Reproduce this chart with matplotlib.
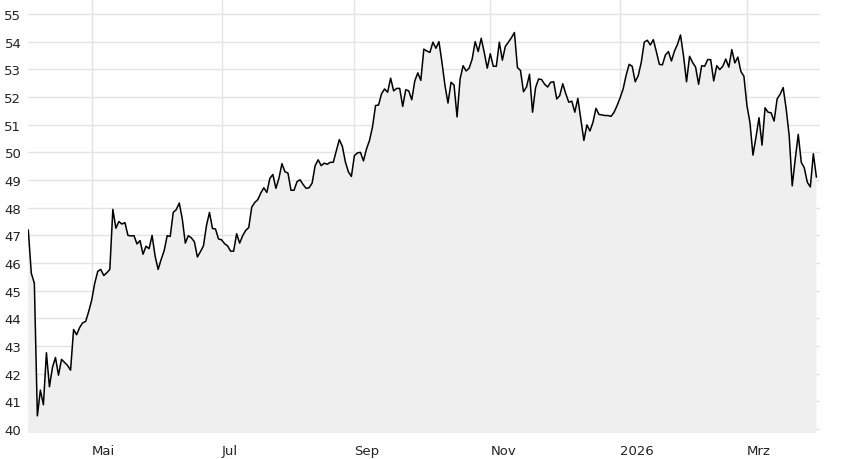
import numpy as np
import pandas as pd
import matplotlib
matplotlib.use("Agg")
import matplotlib.pyplot as plt

# daily closing prices (weekdays)
start_date = "2025-04-02"
prices = [
    47.19, 45.63, 45.27, 40.48, 41.41, 40.88, 42.76, 41.53, 42.23, 42.59,
    41.95, 42.52, 42.41, 42.30, 42.13, 43.60, 43.41, 43.67, 43.84, 43.89,
    44.25, 44.66, 45.27, 45.70, 45.77, 45.55, 45.65, 45.77, 47.94, 47.26,
    47.50, 47.41, 47.46, 47.00, 46.98, 46.99, 46.69, 46.81, 46.32, 46.61,
    46.52, 47.00, 46.25, 45.77, 46.13, 46.45, 46.99, 46.96, 47.83, 47.93,
    48.17, 47.59, 46.72, 46.99, 46.91, 46.77, 46.22, 46.41, 46.62, 47.35,
    47.83, 47.25, 47.23, 46.87, 46.84, 46.70, 46.62, 46.43, 46.43, 47.06,
    46.72, 46.99, 47.18, 47.28, 48.02, 48.19, 48.29, 48.53, 48.72, 48.55,
    49.06, 49.20, 48.70, 49.06, 49.59, 49.30, 49.25, 48.63, 48.63, 48.94,
    49.01, 48.84, 48.70, 48.72, 48.89, 49.52, 49.73, 49.52, 49.61, 49.57,
    49.64, 49.64, 50.05, 50.46, 50.22, 49.66, 49.30, 49.13, 49.88, 49.98,
    50.00, 49.69, 50.12, 50.43, 50.92, 51.69, 51.71, 52.12, 52.29, 52.17,
    52.68, 52.22, 52.31, 52.31, 51.66, 52.26, 52.22, 51.90, 52.58, 52.87,
    52.60, 53.73, 53.66, 53.61, 53.98, 53.76, 54.00, 53.25, 52.41, 51.78,
    52.53, 52.43, 51.28, 52.65, 53.13, 52.94, 53.04, 53.37, 54.00, 53.64,
    54.12, 53.61, 53.04, 53.56, 53.11, 53.11, 53.98, 53.33, 53.83, 53.98,
    54.14, 54.33, 53.06, 52.96, 52.19, 52.36, 52.82, 51.45, 52.34, 52.65,
    52.63, 52.46, 52.36, 52.53, 52.55, 51.93, 52.05, 52.48, 52.12, 51.81,
    51.85, 51.45, 51.95, 51.20, 50.43, 50.99, 50.77, 51.08, 51.59, 51.37,
    51.35, 51.33, 51.33, 51.30, 51.45, 51.69, 51.97, 52.29, 52.79, 53.18,
    53.11, 52.55, 52.77, 53.25, 53.98, 54.05, 53.88, 54.07, 53.64, 53.18,
    53.16, 53.52, 53.64, 53.30, 53.66, 53.90, 54.24, 53.49, 52.55, 53.47,
    53.25, 53.08, 52.46, 53.13, 53.11, 53.35, 53.35, 52.58, 53.13, 52.99,
    53.11, 53.37, 53.08, 53.71, 53.23, 53.44, 52.92, 52.75, 51.69, 51.08,
    49.90, 50.55, 51.25, 50.26, 51.61, 51.45, 51.43, 51.13, 51.93, 52.10,
    52.34, 51.57, 50.60, 48.79, 49.76, 50.65, 49.64, 49.44, 48.92, 48.75,
    49.95, 49.11,
]

# months that get a tick, and their labels (January shows the year)
tick_months = [5, 7, 9, 11, 1, 3]
month_names = {5: "Mai", 7: "Jul", 9: "Sep", 11: "Nov", 3: "Mrz"}
y_ticks = list(range(40, 56))

dates = pd.bdate_range(start_date, periods=len(prices))
x = np.arange(len(prices))

# first trading day of every tick month
tick_pos = []
tick_lab = []
for i in range(1, len(dates)):
    if dates[i].month != dates[i - 1].month and dates[i].month in tick_months:
        tick_pos.append(i)
        if dates[i].month == 1:
            tick_lab.append(str(dates[i].year))
        else:
            tick_lab.append(month_names[dates[i].month])

fig = plt.figure(figsize=(8.48, 4.6), dpi=100)
ax = fig.add_axes([28.3 / 848, 26 / 460, (820 - 28.3) / 848, 434 / 460])

ax.fill_between(x, prices, 30, color="#efefef", lw=0)
ax.plot(x, prices, color="black", lw=1.1)

ax.set_xlim(0, 262.2)
ax.set_ylim(39.86, 55.54)

ax.set_yticks(y_ticks)
ax.set_xticks(tick_pos)
ax.set_xticklabels(tick_lab, ha="left")
ax.grid(True, color="#e3e3e3", lw=1)
ax.set_axisbelow(True)
ax.tick_params(length=0, labelsize=9.5, colors="#222222")
ax.tick_params(axis="x", pad=8)
ax.tick_params(axis="y", pad=5)
for s in ax.spines.values():
    s.set_visible(False)

fig.savefig("out.png", dpi=100)
